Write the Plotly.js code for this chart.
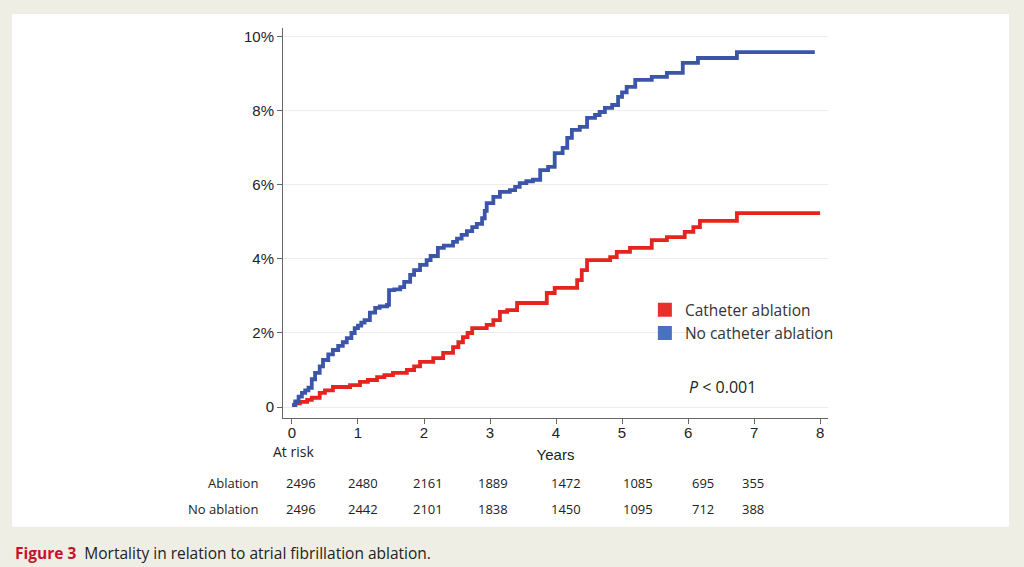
<!DOCTYPE html>
<html>
<head>
<meta charset="utf-8">
<script src="https://cdn.plot.ly/plotly-3.0.1.min.js"></script>
<style>html,body{margin:0;padding:0;background:#efeee5;}#chart{width:1024px;height:567px;}</style>
</head>
<body>
<div id="chart"></div>
<script>
// ---- data ----
const noAblationYears = [0, 0.05, 0.1, 0.15, 0.2, 0.25, 0.3, 0.35, 0.42, 0.47, 0.55, 0.62, 0.7, 0.77, 0.83, 0.9, 0.95, 1.0, 1.05, 1.1, 1.18, 1.26, 1.33, 1.44, 1.47, 1.55, 1.64, 1.7, 1.79, 1.85, 1.94, 2.04, 2.1, 2.21, 2.3, 2.44, 2.5, 2.57, 2.65, 2.73, 2.8, 2.88, 2.92, 2.95, 3.05, 3.15, 3.3, 3.38, 3.45, 3.55, 3.65, 3.76, 3.88, 3.98, 4.1, 4.17, 4.24, 4.36, 4.47, 4.59, 4.66, 4.74, 4.85, 4.94, 5.0, 5.07, 5.2, 5.45, 5.68, 5.92, 6.15, 6.74, 7.92];
const noAblationPct   = [0.05, 0.15, 0.28, 0.38, 0.45, 0.52, 0.75, 0.92, 1.1, 1.27, 1.42, 1.54, 1.65, 1.75, 1.86, 2.0, 2.13, 2.2, 2.28, 2.35, 2.55, 2.68, 2.72, 2.76, 3.16, 3.18, 3.24, 3.38, 3.57, 3.7, 3.84, 3.97, 4.08, 4.3, 4.36, 4.46, 4.55, 4.65, 4.75, 4.86, 4.95, 5.1, 5.3, 5.51, 5.68, 5.81, 5.86, 5.95, 6.05, 6.1, 6.14, 6.4, 6.49, 6.86, 7.0, 7.27, 7.49, 7.57, 7.81, 7.89, 7.97, 8.08, 8.16, 8.38, 8.5, 8.65, 8.84, 8.92, 9.03, 9.3, 9.43, 9.59, 9.59];

const ablationYears = [0, 0.05, 0.12, 0.23, 0.3, 0.42, 0.5, 0.62, 0.88, 1.03, 1.15, 1.29, 1.4, 1.53, 1.74, 1.85, 1.94, 2.14, 2.29, 2.44, 2.52, 2.59, 2.66, 2.73, 2.95, 3.05, 3.15, 3.26, 3.41, 3.86, 3.98, 4.24, 4.32, 4.39, 4.47, 4.7, 4.82, 4.92, 5.12, 5.45, 5.68, 5.95, 6.08, 6.18, 6.74, 8.0];
const ablationPct   = [0.05, 0.1, 0.14, 0.19, 0.25, 0.38, 0.45, 0.54, 0.59, 0.68, 0.73, 0.81, 0.86, 0.92, 1.0, 1.1, 1.22, 1.32, 1.46, 1.62, 1.75, 1.89, 2.0, 2.13, 2.22, 2.35, 2.57, 2.62, 2.81, 3.08, 3.22, 3.22, 3.43, 3.7, 3.97, 3.97, 4.05, 4.19, 4.3, 4.51, 4.59, 4.73, 4.86, 5.03, 5.24, 5.24];

const seriesNames = ["Catheter ablation", "No catheter ablation"];
const xTickVals = [0, 1, 2, 3, 4, 5, 6, 7, 8];
const yTickVals = [0, 2, 4, 6, 8, 10];
const yTickText = ["0", "2%", "4%", "6%", "8%", "10%"];

const riskYears = [0, 1, 2, 3, 4, 5, 6, 7];
const riskAblation = [2496, 2480, 2161, 1889, 1472, 1085, 695, 355];
const riskNoAblation = [2496, 2442, 2101, 1838, 1450, 1095, 712, 388];
const riskRowLabels = ["Ablation", "No ablation"];

// ---- styling ----
const RED = "#e5231f", BLUE = "#3b55a9";
const RED_KEY = "#e8302b", BLUE_KEY = "#4a70c2";
const riskShift = [9, 5, 4, 3, 10, 16, 15, -1];
const tableFont = {family: "Open Sans, sans-serif", size: 13, color: "#222"};

const traces = [
  {x: ablationYears, y: ablationPct, mode: "lines", line: {shape: "hv", color: RED, width: 3.8}, showlegend: false, hoverinfo: "skip"},
  {x: noAblationYears, y: noAblationPct, mode: "lines", line: {shape: "hv", color: BLUE, width: 3.8}, showlegend: false, hoverinfo: "skip"},
  {x: [null], y: [null], mode: "markers", name: seriesNames[0], marker: {symbol: "square", size: 14, color: RED_KEY}},
  {x: [null], y: [null], mode: "markers", name: seriesNames[1], marker: {symbol: "square", size: 14, color: BLUE_KEY}}
];

const annotations = [];
riskYears.forEach((yr, i) => {
  annotations.push({x: yr, xref: "x", y: -0.1667, yref: "paper", text: String(riskAblation[i]), showarrow: false, xanchor: "center", yanchor: "middle", xshift: riskShift[i], font: tableFont});
  annotations.push({x: yr, xref: "x", y: -0.2333, yref: "paper", text: String(riskNoAblation[i]), showarrow: false, xanchor: "center", yanchor: "middle", xshift: riskShift[i], font: tableFont});
});
annotations.push({x: -0.042, xref: "paper", y: -0.1667, yref: "paper", text: riskRowLabels[0], showarrow: false, xanchor: "right", yanchor: "middle", font: tableFont});
annotations.push({x: -0.042, xref: "paper", y: -0.2333, yref: "paper", text: riskRowLabels[1], showarrow: false, xanchor: "right", yanchor: "middle", font: tableFont});
annotations.push({x: 0.020, xref: "paper", y: -0.087, yref: "paper", text: "At risk", showarrow: false, xanchor: "center", yanchor: "middle", font: {family: "Open Sans, sans-serif", size: 14, color: "#222"}});
annotations.push({x: 0.742, xref: "paper", y: 0.08, yref: "paper", text: "<i>P</i> &lt; 0.001", showarrow: false, xanchor: "left", yanchor: "middle", font: {family: "Open Sans, sans-serif", size: 16, color: "#222"}});
annotations.push({x: -0.4954, xref: "paper", y: -0.346, yref: "paper", text: "<b><span style='color:#c8102e'>Figure 3</span></b>  Mortality in relation to atrial fibrillation ablation.", showarrow: false, xanchor: "left", yanchor: "middle", font: {family: "Open Sans, sans-serif", size: 15.5, color: "#222"}});

const layout = {
  width: 1024, height: 567,
  margin: {l: 283, r: 196, t: 28, b: 149, pad: 0},
  paper_bgcolor: "#efeee5",
  plot_bgcolor: "rgba(0,0,0,0)",
  shapes: [{type: "rect", xref: "paper", yref: "paper", x0: -0.497, x1: 1.332, y0: -0.279, y1: 1.036, fillcolor: "#ffffff", line: {width: 0}, layer: "below"}],
  xaxis: {
    range: [-0.136, 8.12], tickvals: xTickVals, ticks: "outside", ticklen: 5, tickcolor: "#666", tickwidth: 1,
    showline: true, linecolor: "#666", linewidth: 1, showgrid: false, zeroline: false,
    ticklabelstandoff: -4,
    tickfont: {family: "Liberation Sans, Arial, sans-serif", size: 15, color: "#222"},
    title: {text: "Years", standoff: 9, font: {family: "Liberation Sans, Arial, sans-serif", size: 15, color: "#222"}},
    automargin: false, fixedrange: true
  },
  yaxis: {
    range: [-0.297, 10.24], tickvals: yTickVals, ticktext: yTickText, ticks: "outside", ticklen: 5, tickcolor: "#666", tickwidth: 1,
    showline: true, linecolor: "#666", linewidth: 1, showgrid: true, gridcolor: "#ececec", gridwidth: 1, zeroline: false,
    tickfont: {family: "Liberation Sans, Arial, sans-serif", size: 15, color: "#222"},
    automargin: false, fixedrange: true
  },
  legend: {x: 0.664, y: 0.32, xanchor: "left", yanchor: "top", bgcolor: "rgba(0,0,0,0)", borderwidth: 0,
    font: {family: "Open Sans, sans-serif", size: 15.5, color: "#333"}, tracegroupgap: 0, itemclick: false, itemdoubleclick: false},
  annotations: annotations,
  showlegend: true
};

Plotly.newPlot("chart", traces, layout, {displayModeBar: false, staticPlot: true});
</script>
</body>
</html>
